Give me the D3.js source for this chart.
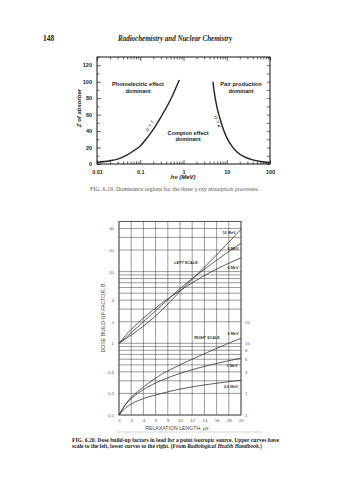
<!DOCTYPE html>
<html>
<head>
<meta charset="utf-8">
<script src="https://cdn.jsdelivr.net/npm/d3@7"></script>
<style>
  body { margin: 0; background: #fff; }
  svg { display: block; }
  .serif { font-family: "Liberation Serif", "DejaVu Serif", serif; }
  .sans { font-family: "Liberation Sans", Arial, sans-serif; }
  .axis path { display: none; }
</style>
</head>
<body>
<svg id="page" width="352" height="480"></svg>
<script>
// ---- Fig 6.19 data
let energyTicks = [0.01, 0.1, 1, 10, 100]
let energyLabels = ["0.01", "0.1", "1", "10", "100"]
let zTicks = [0, 20, 40, 60, 80, 100, 120]
let zMinor = [10, 30, 50, 70, 90, 110, 130]
// sigma = tau boundary (photoelectric / compton)
let photoEnergy = [0.01, 0.015, 0.02, 0.03, 0.05, 0.07, 0.1, 0.15, 0.2, 0.3, 0.5, 0.8]
let photoZ = [2, 3, 4, 6, 11, 16, 22, 33, 42, 57, 78, 102]
// sigma = kappa boundary (compton / pair)
let pairEnergy = [4.8, 5, 5.5, 6, 7, 8, 10, 13, 17, 25, 40, 60, 100]
let pairZ = [100, 92, 78, 68, 55, 45, 32, 22, 15, 9, 5, 3, 1.5]

// ---- Fig 6.20 data
let relaxTicks = [0, 2, 4, 6, 8, 10, 12, 14, 16, 18, 20]
let leftTicks = [0.1, 0.2, 0.4, 1, 2, 4, 10, 20, 40]
let rightTicks = [1, 2, 4, 6, 8, 10, 20]
let mux = [0, 1, 2, 4, 7, 10, 15, 20]
// upper curves, left scale
let b10MeV = [1, 1.14, 1.30, 1.74, 2.89, 5.3, 14, 39]
let b8MeV = [1, 1.18, 1.40, 2.01, 3.39, 5.8, 12.5, 25]
let b4MeV = [1, 1.27, 1.56, 2.25, 3.61, 5.44, 9.8, 15.6]
// lower curves, right scale
let b2MeV = [1, 1.39, 1.76, 2.45, 3.7, 5.0, 7.8, 11.8]
let b1MeV = [1, 1.37, 1.69, 2.26, 3.05, 3.8, 5.0, 6.2]
let b05MeV = [1, 1.24, 1.42, 1.69, 2.0, 2.3, 2.7, 3.05]

let svg = d3.select("#page")

// page header
svg.append("text").attr("class", "serif")
  .attr("x", 43).attr("y", 41).attr("font-size", 7.5).attr("font-weight", "bold")
  .attr("fill", "#222").text("148")
svg.append("text").attr("class", "serif")
  .attr("x", 118).attr("y", 41).attr("font-size", 7.5).attr("font-weight", "bold")
  .attr("font-style", "italic").attr("fill", "#222")
  .attr("textLength", 114).attr("lengthAdjust", "spacingAndGlyphs")
  .text("Radiochemistry and Nuclear Chemistry")

// ================= FIG 6.19 =================
let x1 = d3.scaleLog().domain([0.01, 100]).range([97, 270])
let y1 = d3.scaleLinear().domain([0, 130]).range([164, 57])
let g1 = svg.append("g").attr("class", "sans")

let minorE = x1.ticks().filter(d => energyTicks.indexOf(d) < 0)

// bottom axis
g1.append("g").attr("class", "axis")
  .attr("transform", "translate(0," + y1(0) + ")")
  .call(d3.axisBottom(x1).tickValues(energyTicks)
    .tickFormat((d, i) => energyLabels[i]).tickSize(-4).tickPadding(6))
g1.append("g").attr("class", "axis")
  .attr("transform", "translate(0," + y1(0) + ")")
  .call(d3.axisBottom(x1).tickValues(minorE).tickFormat("").tickSize(-2.5))
// top axis
g1.append("g").attr("class", "axis")
  .attr("transform", "translate(0," + y1(130) + ")")
  .call(d3.axisTop(x1).tickValues(energyTicks).tickFormat("").tickSize(-4))
g1.append("g").attr("class", "axis")
  .attr("transform", "translate(0," + y1(130) + ")")
  .call(d3.axisTop(x1).tickValues(minorE).tickFormat("").tickSize(-2.5))
// left axis
g1.append("g").attr("class", "axis")
  .attr("transform", "translate(" + x1(0.01) + ",0)")
  .call(d3.axisLeft(y1).tickValues(zTicks).tickSize(-4).tickPadding(5))
g1.append("g").attr("class", "axis")
  .attr("transform", "translate(" + x1(0.01) + ",0)")
  .call(d3.axisLeft(y1).tickValues(zMinor).tickFormat("").tickSize(-2.5))
// right axis
g1.append("g").attr("class", "axis")
  .attr("transform", "translate(" + x1(100) + ",0)")
  .call(d3.axisRight(y1).tickValues(zTicks.concat(zMinor)).tickFormat("").tickSize(-3))

g1.selectAll(".axis text").attr("font-size", 5.5).attr("font-weight", "bold").attr("fill", "#222")
g1.selectAll(".axis line").attr("stroke", "#222").attr("stroke-width", 0.7)

g1.append("rect")
  .attr("x", x1(0.01)).attr("y", y1(130))
  .attr("width", x1(100) - x1(0.01)).attr("height", y1(0) - y1(130))
  .attr("fill", "none").attr("stroke", "#111").attr("stroke-width", 1)

let line1 = d3.line().x(d => x1(d[0])).y(d => y1(d[1])).curve(d3.curveMonotoneX)
g1.append("path").datum(d3.zip(photoEnergy, photoZ))
  .attr("d", line1).attr("fill", "none").attr("stroke", "#222").attr("stroke-width", 1.4)
g1.append("path").datum(d3.zip(pairEnergy, pairZ).reverse())
  .attr("d", line1).attr("fill", "none").attr("stroke", "#222").attr("stroke-width", 1.4)

// region labels
function label2(g, x, y, l1, l2) {
  let t = g.append("text").attr("font-size", 5.6).attr("font-weight", "bold")
    .attr("fill", "#222").attr("text-anchor", "middle")
  t.append("tspan").attr("x", x).attr("y", y).text(l1)
  t.append("tspan").attr("x", x).attr("y", y + 6.8).text(l2)
}
label2(g1, 138, 86, "Photoelectric effect", "dominant")
label2(g1, 188, 134.5, "Compton effect", "dominant")
label2(g1, 241, 86, "Pair production", "dominant")

g1.append("text").attr("font-size", 5.5).attr("font-style", "italic").attr("fill", "#222")
  .attr("text-anchor", "middle")
  .attr("transform", "translate(151,127) rotate(-58)").text("σ = τ")
g1.append("text").attr("font-size", 5.5).attr("font-style", "italic").attr("fill", "#222")
  .attr("text-anchor", "middle")
  .attr("transform", "translate(216,122) rotate(72)").text("σ = κ")

g1.append("text").attr("x", 183).attr("y", 179).attr("text-anchor", "middle")
  .attr("font-size", 6).attr("font-weight", "bold").attr("font-style", "italic")
  .attr("fill", "#222").text("hν (MeV)")
g1.append("text").attr("transform", "translate(81,108) rotate(-90)")
  .attr("text-anchor", "middle").attr("font-size", 6).attr("font-weight", "bold")
  .attr("font-style", "italic").attr("fill", "#222").text("Z of absorber")

svg.append("text").attr("class", "serif")
  .attr("x", 90).attr("y", 191).attr("font-size", 5.4).attr("fill", "#555")
  .attr("textLength", 169).attr("lengthAdjust", "spacingAndGlyphs")
  .text("FIG. 6.19. Dominance regions for the three γ-ray absorption processes.")

// ================= FIG 6.20 =================
let x2 = d3.scaleLinear().domain([0, 20]).range([119, 241])
let y2 = d3.scaleLog().domain([0.1, 50]).range([415, 221.5])
let y2r = d3.scaleLog().domain([1, 500]).range([415, 221.5])
let g2 = svg.append("g").attr("class", "sans")

// grid
g2.append("g").selectAll("line.h").data(y2.ticks()).enter().append("line")
  .attr("x1", x2(0)).attr("x2", x2(20))
  .attr("y1", d => y2(d)).attr("y2", d => y2(d))
  .attr("stroke", "#555").attr("stroke-width", 0.6)
g2.append("g").selectAll("line.v").data(relaxTicks).enter().append("line")
  .attr("x1", d => x2(d)).attr("x2", d => x2(d))
  .attr("y1", y2(0.1)).attr("y2", y2(50))
  .attr("stroke", "#555").attr("stroke-width", 0.6)
g2.append("rect")
  .attr("x", x2(0)).attr("y", y2(50))
  .attr("width", x2(20) - x2(0)).attr("height", y2(0.1) - y2(50))
  .attr("fill", "none").attr("stroke", "#444").attr("stroke-width", 0.8)

// axes
g2.append("g").attr("class", "axis")
  .attr("transform", "translate(0," + y2(0.1) + ")")
  .call(d3.axisBottom(x2).tickValues(relaxTicks).tickSize(0).tickPadding(4))
g2.append("g").attr("class", "axis")
  .attr("transform", "translate(" + x2(0) + ",0)")
  .call(d3.axisLeft(y2).tickValues(leftTicks).tickFormat(d3.format("~g")).tickSize(0).tickPadding(5))
g2.append("g").attr("class", "axis")
  .attr("transform", "translate(" + x2(20) + ",0)")
  .call(d3.axisRight(y2r).tickValues(rightTicks).tickFormat(d3.format("~g")).tickSize(0).tickPadding(4))
g2.selectAll(".axis text").attr("font-size", 4.3).attr("fill", "#555")

// curves
let line2L = d3.line().x(d => x2(d[0])).y(d => y2(d[1])).curve(d3.curveMonotoneX)
let line2R = d3.line().x(d => x2(d[0])).y(d => y2r(d[1])).curve(d3.curveMonotoneX)
;[b10MeV, b8MeV, b4MeV].forEach(s => {
  g2.append("path").datum(d3.zip(mux, s)).attr("d", line2L)
    .attr("fill", "none").attr("stroke", "#333").attr("stroke-width", 0.8)
})
;[b2MeV, b1MeV, b05MeV].forEach(s => {
  g2.append("path").datum(d3.zip(mux, s)).attr("d", line2R)
    .attr("fill", "none").attr("stroke", "#333").attr("stroke-width", 0.8)
})

function smallLabel(x, y, t) {
  g2.append("text").attr("x", x).attr("y", y).attr("font-size", 3.8)
    .attr("font-weight", "bold").attr("fill", "#333").attr("text-anchor", "middle").text(t)
}
smallLabel(229, 234, "10 MeV")
smallLabel(233, 249.5, "8 MeV")
smallLabel(233, 268.5, "4 MeV")
smallLabel(186, 264, "LEFT SCALE")
smallLabel(207, 338.5, "RIGHT SCALE")
smallLabel(233, 335, "2 MeV")
smallLabel(232, 366.5, "1 MeV")
smallLabel(231, 388, "0.5 MeV")

g2.append("text").attr("x", 177).attr("y", 430).attr("text-anchor", "middle")
  .attr("font-size", 5.2).attr("fill", "#444").text("RELAXATION LENGTH, μx")
g2.append("text").attr("transform", "translate(105,318) rotate(-90)")
  .attr("text-anchor", "middle").attr("font-size", 5.2).attr("fill", "#444")
  .text("DOSE BUILD-UP FACTOR, B")

// separator line and caption
svg.append("line").attr("x1", 116).attr("x2", 262).attr("y1", 432).attr("y2", 432)
  .attr("stroke", "#bbb").attr("stroke-width", 0.6)
let cap = svg.append("text").attr("class", "serif").attr("font-size", 5.4)
  .attr("font-weight", "bold").attr("fill", "#222")
cap.append("tspan").attr("x", 72).attr("y", 442)
  .attr("textLength", 207).attr("lengthAdjust", "spacingAndGlyphs")
  .text("FIG. 6.20. Dose build-up factors in lead for a point isotropic source. Upper curves have")
let cap2 = svg.append("text").attr("class", "serif").attr("font-size", 5.4)
  .attr("font-weight", "bold").attr("fill", "#222")
  .attr("x", 72).attr("y", 448)
  .attr("textLength", 190).attr("lengthAdjust", "spacingAndGlyphs")
cap2.append("tspan").text("scale to the left, lower curves to the right. (From ")
cap2.append("tspan").attr("font-style", "italic").text("Radiological Health Handbook")
cap2.append("tspan").text(".)")
</script>
</body>
</html>
